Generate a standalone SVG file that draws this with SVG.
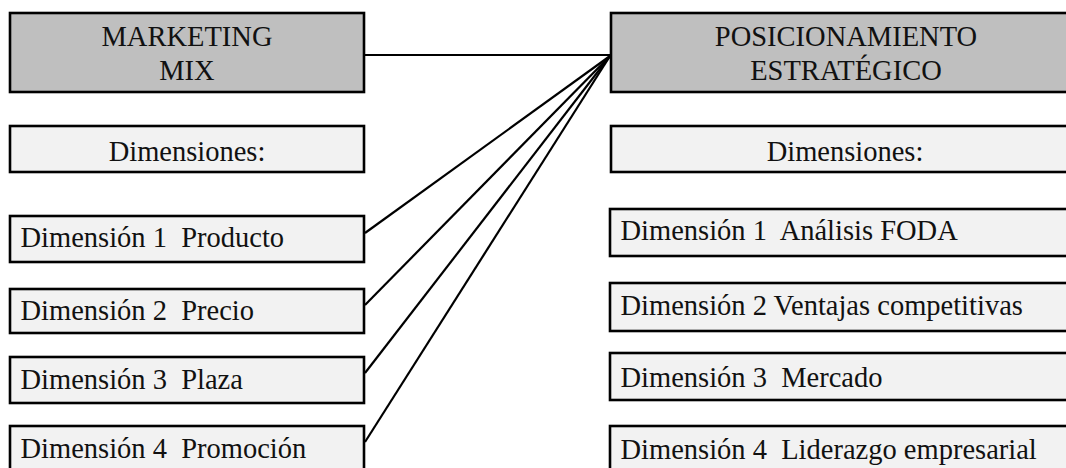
<svg xmlns="http://www.w3.org/2000/svg" width="1066" height="468" viewBox="0 0 1066 468">
<style>
.hd{fill:#bfbfbf;stroke:#000;stroke-width:2.6}
.dm{fill:#f2f2f2;stroke:#000;stroke-width:2.6}
text{font-family:"Liberation Serif","Times New Roman",serif;font-size:28.5px;fill:#111;white-space:pre}
.c{text-anchor:middle}
.ln{stroke:#000;stroke-width:2.2;fill:none}
</style>
<rect width="1066" height="468" fill="#fff"/>
<g id="connectors">
<line class="ln" x1="364" y1="55" x2="611" y2="55"/>
<line class="ln" x1="365" y1="233" x2="610" y2="56"/>
<line class="ln" x1="365" y1="305" x2="610" y2="56"/>
<line class="ln" x1="365" y1="373" x2="610" y2="56"/>
<line class="ln" x1="365" y1="442" x2="610" y2="56"/>
</g>
<g id="marketing-mix">
<rect class="hd" x="10" y="13" width="354" height="79"/>
<text class="c" x="187" y="46">MARKETING</text>
<text class="c" x="187" y="80">MIX</text>
</g>
<g id="mm-dimensiones">
<rect class="dm" x="10" y="126" width="354" height="46"/>
<text class="c" x="187" y="161">Dimensiones:</text>
</g>
<g id="mm-dim1">
<rect class="dm" x="10" y="216" width="354" height="46"/>
<text x="20.5" y="247">Dimensión 1  Producto</text>
</g>
<g id="mm-dim2">
<rect class="dm" x="10" y="289" width="354" height="44"/>
<text x="20.5" y="320">Dimensión 2  Precio</text>
</g>
<g id="mm-dim3">
<rect class="dm" x="10" y="357" width="354" height="46"/>
<text x="20.5" y="389">Dimensión 3  Plaza</text>
</g>
<g id="mm-dim4">
<rect class="dm" x="10" y="426" width="354" height="50"/>
<text x="20.5" y="458">Dimensión 4  Promoción</text>
</g>
<g id="posicionamiento">
<rect class="hd" x="611" y="13" width="470" height="79"/>
<text class="c" x="846" y="46">POSICIONAMIENTO</text>
<text class="c" x="846" y="80">ESTRATÉGICO</text>
</g>
<g id="pe-dimensiones">
<rect class="dm" x="611" y="126" width="470" height="46"/>
<text class="c" x="845" y="161">Dimensiones:</text>
</g>
<g id="pe-dim1">
<rect class="dm" x="610" y="209" width="470" height="47"/>
<text x="620.5" y="240">Dimensión 1  Análisis FODA</text>
</g>
<g id="pe-dim2">
<rect class="dm" x="610" y="283" width="470" height="48"/>
<text x="620.5" y="315">Dimensión 2 Ventajas competitivas</text>
</g>
<g id="pe-dim3">
<rect class="dm" x="610" y="353" width="470" height="47"/>
<text x="620.5" y="387">Dimensión 3  Mercado</text>
</g>
<g id="pe-dim4">
<rect class="dm" x="610" y="426" width="470" height="50"/>
<text x="620.5" y="459">Dimensión 4  Liderazgo empresarial</text>
</g>
</svg>
